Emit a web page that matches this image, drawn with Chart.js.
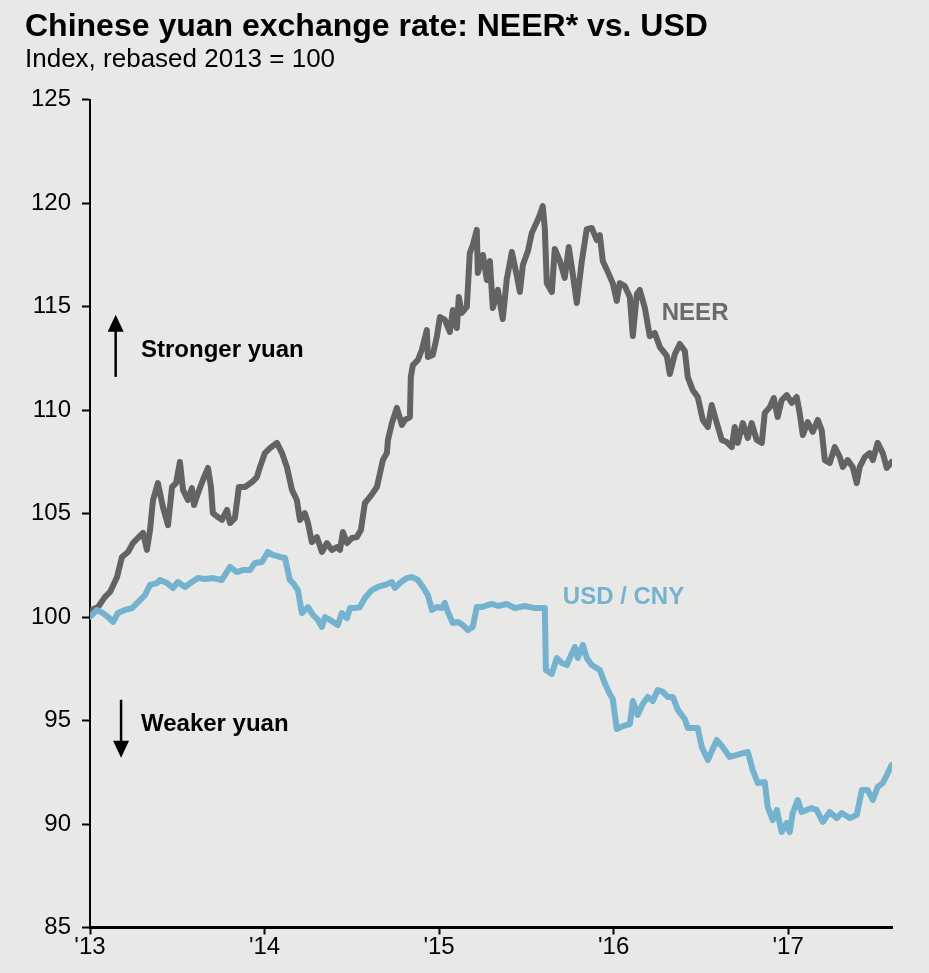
<html>
<head>
<title>Chinese yuan exchange rate</title>
<style>
  body { margin: 0; background: #e8e8e6; }
</style>
</head>

<body>
<script src="https://cdn.jsdelivr.net/npm/chart.js@4.4.0/dist/chart.umd.min.js"></script>

<canvas id="myChart" width="929" height="973"></canvas>

<script type="text/javascript">
var titleText = "Chinese yuan exchange rate: NEER* vs. USD";
var subtitleText = "Index, rebased 2013 = 100";
var yearLabels = ["'13", "'14", "'15", "'16", "'17"];

// NEER, dates as decimal years
var neerDates = [2013.000, 2013.046, 2013.086, 2013.115, 2013.155, 2013.183, 2013.218, 2013.246, 2013.275, 2013.304,
  2013.326, 2013.344, 2013.361, 2013.389, 2013.418, 2013.447, 2013.470, 2013.493, 2013.515, 2013.533,
  2013.561, 2013.584, 2013.596, 2013.619, 2013.647, 2013.676, 2013.693, 2013.704, 2013.733, 2013.756,
  2013.785, 2013.802, 2013.830, 2013.853, 2013.888, 2013.928, 2013.956, 2013.974, 2014.002, 2014.031,
  2014.071, 2014.100, 2014.128, 2014.157, 2014.185, 2014.203, 2014.231, 2014.249, 2014.271, 2014.300,
  2014.329, 2014.357, 2014.386, 2014.415, 2014.432, 2014.449, 2014.472, 2014.501, 2014.529, 2014.552,
  2014.575, 2014.604, 2014.644, 2014.678, 2014.701, 2014.707, 2014.730, 2014.758, 2014.787, 2014.804,
  2014.833, 2014.838, 2014.850, 2014.879, 2014.901, 2014.930, 2014.936, 2014.964, 2014.987, 2015.005,
  2015.033, 2015.062, 2015.079, 2015.102, 2015.113, 2015.130, 2015.159, 2015.176, 2015.193, 2015.216,
  2015.222, 2015.251, 2015.274, 2015.291, 2015.308, 2015.337, 2015.365, 2015.388, 2015.417, 2015.446,
  2015.463, 2015.480, 2015.509, 2015.531, 2015.560, 2015.577, 2015.594, 2015.606, 2015.617, 2015.646,
  2015.663, 2015.692, 2015.720, 2015.743, 2015.766, 2015.789, 2015.818, 2015.846, 2015.875, 2015.904,
  2015.921, 2015.938, 2015.967, 2015.995, 2016.018, 2016.035, 2016.064, 2016.093, 2016.110, 2016.133,
  2016.150, 2016.179, 2016.207, 2016.236, 2016.265, 2016.305, 2016.322, 2016.351, 2016.379, 2016.408,
  2016.425, 2016.453, 2016.482, 2016.511, 2016.540, 2016.562, 2016.591, 2016.620, 2016.648, 2016.677,
  2016.694, 2016.711, 2016.740, 2016.769, 2016.791, 2016.820, 2016.849, 2016.866, 2016.895, 2016.918,
  2016.940, 2016.963, 2016.992, 2017.021, 2017.049, 2017.066, 2017.084, 2017.112, 2017.141, 2017.170,
  2017.192, 2017.210, 2017.238, 2017.267, 2017.296, 2017.313, 2017.341, 2017.370, 2017.393, 2017.410,
  2017.439, 2017.467, 2017.485, 2017.513, 2017.542, 2017.565, 2017.593];
var neerValues = [100.3, 100.48, 100.97, 101.21, 101.93, 102.90, 103.14, 103.57, 103.82, 104.06,
  103.24, 104.20, 105.65, 106.47, 105.31, 104.44, 106.28, 106.47, 107.49, 106.14,
  105.65, 106.23, 105.41, 105.99, 106.62, 107.20, 106.28, 105.02, 104.83, 104.69,
  105.17, 104.54, 104.78, 106.28, 106.28, 106.52, 106.76, 107.25, 107.92, 108.16,
  108.41, 107.92, 107.25, 106.14, 105.65, 104.69, 105.02, 104.54, 103.62, 103.86,
  103.14, 103.57, 103.24, 103.38, 103.24, 104.11, 103.57, 103.82, 103.86, 104.20,
  105.51, 105.80, 106.28, 107.58, 107.92, 108.55, 109.37, 110.10, 109.28, 109.52,
  109.66, 111.59, 112.17, 112.42, 112.90, 113.86, 112.56, 112.66, 113.53, 114.49,
  114.35, 113.77, 114.83, 113.96, 115.46, 114.69, 114.98, 117.58, 117.97, 118.70,
  116.62, 117.49, 116.28, 117.20, 114.93, 115.80, 114.40, 116.33, 117.63, 116.47,
  115.70, 117.00, 117.68, 118.55, 119.08, 119.42, 119.85, 118.74, 116.13, 115.70,
  117.78, 117.20, 116.38, 117.87, 116.57, 115.17, 117.20, 118.74, 118.79, 118.21,
  118.45, 117.20, 116.67, 116.13, 115.27, 116.13, 115.99, 115.46, 113.57, 115.60,
  115.80, 114.93, 113.57, 113.72, 113.04, 112.61, 111.74, 112.70, 113.19, 112.85,
  111.59, 110.97, 110.63, 109.52, 109.18, 110.24, 109.37, 108.55, 108.45, 108.21,
  109.18, 108.41, 109.37, 108.65, 109.37, 108.55, 108.41, 109.86, 110.14, 110.58,
  109.66, 110.48, 110.72, 110.34, 110.63, 109.86, 108.79, 109.42, 108.94, 109.52,
  109.03, 107.58, 107.44, 108.21, 107.73, 107.25, 107.58, 107.25, 106.47, 107.25,
  107.73, 107.92, 107.58, 108.41, 107.92, 107.20, 107.49];

// USD / CNY
var cnyDates = [2013.000, 2013.040, 2013.074, 2013.103, 2013.132, 2013.160, 2013.200, 2013.241, 2013.275, 2013.315,
  2013.344, 2013.384, 2013.401, 2013.441, 2013.475, 2013.504, 2013.544, 2013.584, 2013.619, 2013.659,
  2013.704, 2013.756, 2013.773, 2013.802, 2013.842, 2013.876, 2013.916, 2013.945, 2013.985, 2014.019,
  2014.048, 2014.088, 2014.117, 2014.145, 2014.163, 2014.191, 2014.214, 2014.249, 2014.277, 2014.306,
  2014.329, 2014.346, 2014.375, 2014.403, 2014.420, 2014.443, 2014.472, 2014.489, 2014.518, 2014.546,
  2014.575, 2014.615, 2014.649, 2014.690, 2014.730, 2014.747, 2014.775, 2014.816, 2014.844, 2014.879,
  2014.907, 2014.936, 2014.959, 2014.987, 2015.016, 2015.033, 2015.050, 2015.079, 2015.108, 2015.136,
  2015.165, 2015.193, 2015.216, 2015.245, 2015.279, 2015.302, 2015.337, 2015.388, 2015.434, 2015.491,
  2015.549, 2015.606, 2015.612, 2015.646, 2015.675, 2015.703, 2015.732, 2015.749, 2015.778, 2015.795,
  2015.824, 2015.846, 2015.875, 2015.921, 2015.949, 2015.978, 2015.995, 2016.018, 2016.053, 2016.093,
  2016.110, 2016.138, 2016.167, 2016.196, 2016.224, 2016.253, 2016.282, 2016.310, 2016.339, 2016.368,
  2016.408, 2016.425, 2016.482, 2016.505, 2016.540, 2016.591, 2016.625, 2016.665, 2016.769, 2016.797,
  2016.826, 2016.866, 2016.883, 2016.912, 2016.935, 2016.963, 2016.992, 2017.009, 2017.026, 2017.055,
  2017.077, 2017.134, 2017.163, 2017.198, 2017.238, 2017.278, 2017.307, 2017.353, 2017.393, 2017.422,
  2017.456, 2017.485, 2017.513, 2017.542, 2017.571, 2017.593];
var cnyValues = [100.00, 100.34, 100.19, 100.00, 99.76, 100.19, 100.34, 100.43, 100.72, 101.06,
  101.55, 101.64, 101.79, 101.64, 101.40, 101.69, 101.45, 101.69, 101.88, 101.84,
  101.88, 101.79, 102.03, 102.42, 102.17, 102.27, 102.27, 102.61, 102.66, 103.14,
  103.00, 102.90, 102.85, 101.79, 101.64, 101.30, 100.19, 100.48, 100.10, 99.86,
  99.52, 100.00, 99.86, 99.71, 99.61, 100.19, 99.95, 100.43, 100.43, 100.48,
  100.92, 101.30, 101.45, 101.55, 101.69, 101.40, 101.64, 101.88, 101.93, 101.79,
  101.45, 101.06, 100.34, 100.48, 100.43, 100.68, 100.24, 99.71, 99.76, 99.61,
  99.37, 99.52, 100.48, 100.48, 100.58, 100.63, 100.53, 100.63, 100.43, 100.53,
  100.43, 100.43, 97.44, 97.25, 98.02, 97.78, 97.68, 98.02, 98.55, 98.02,
  98.65, 98.02, 97.68, 97.44, 96.81, 96.28, 96.04, 94.59, 94.73, 94.83,
  95.94, 95.27, 95.80, 96.14, 95.94, 96.47, 96.38, 96.14, 96.14, 95.51,
  95.07, 94.64, 94.64, 93.72, 93.09, 94.06, 93.72, 93.24, 93.48, 92.61,
  91.98, 92.03, 90.82, 90.19, 90.68, 89.61, 90.05, 89.61, 90.53, 91.16,
  90.58, 90.77, 90.68, 90.10, 90.58, 90.29, 90.53, 90.29, 90.43, 91.64,
  91.64, 91.16, 91.79, 91.98, 92.46, 92.85];

var neerColor = "#636363";
var cnyColor = "#74b3cf";

// text labels on the chart, placed in data units
var notes = [
  {text: "NEER", x: 2016.276, y: 114.69, color: "#6a6a6a"},
  {text: "USD / CNY", x: 2015.709, y: 100.97, color: cnyColor},
  {text: "Stronger yuan", x: 2013.292, y: 112.9, color: "#000"},
  {text: "Weaker yuan", x: 2013.292, y: 94.83, color: "#000"}
];
var arrows = [
  {x: 2013.147, from: 111.6, to: 114.6},
  {x: 2013.178, from: 96.0, to: 93.2}
];

function toPoints(xs, ys) {
  var pts = [];
  for (var i = 0; i < xs.length; i++) {
    pts.push({x: xs[i], y: ys[i]});
  }
  return pts;
}

var bgPlugin = {
  id: "bg",
  beforeDraw: function(chart) {
    var c = chart.ctx;
    c.save();
    c.fillStyle = "#e8e8e6";
    c.fillRect(0, 0, chart.width, chart.height);
    c.restore();
  }
};

var notesPlugin = {
  id: "notes",
  afterDatasetsDraw: function(chart) {
    var c = chart.ctx;
    var xs = chart.scales.x, ys = chart.scales.y;
    c.save();
    c.font = "bold 24px 'Liberation Sans', Arial, sans-serif";
    c.textBaseline = "middle";
    c.textAlign = "left";
    notes.forEach(function(n) {
      c.fillStyle = n.color;
      c.fillText(n.text, xs.getPixelForValue(n.x), ys.getPixelForValue(n.y));
    });
    c.strokeStyle = "#000";
    c.fillStyle = "#000";
    c.lineWidth = 2.5;
    arrows.forEach(function(a) {
      var px = xs.getPixelForValue(a.x);
      var y0 = ys.getPixelForValue(a.from);
      var y1 = ys.getPixelForValue(a.to);
      var dir = y1 < y0 ? 1 : -1;
      c.beginPath();
      c.moveTo(px, y0);
      c.lineTo(px, y1 + dir * 14);
      c.stroke();
      c.beginPath();
      c.moveTo(px, y1);
      c.lineTo(px - 8, y1 + dir * 17);
      c.lineTo(px + 8, y1 + dir * 17);
      c.closePath();
      c.fill();
    });
    c.restore();
  }
};

Chart.defaults.font.family = "'Liberation Sans', Arial, sans-serif";
Chart.defaults.color = "#000";

var ctx = document.getElementById("myChart").getContext("2d");

var myLineChart = new Chart(ctx, {
  type: "line",
  data: {
    datasets: [
      {
        label: "USD / CNY",
        data: toPoints(cnyDates, cnyValues),
        borderColor: cnyColor,
        borderWidth: 6,
        pointRadius: 0,
        fill: false,
        tension: 0,
        borderJoinStyle: "round",
        borderCapStyle: "round"
      },
      {
        label: "NEER",
        data: toPoints(neerDates, neerValues),
        borderColor: neerColor,
        borderWidth: 6,
        pointRadius: 0,
        fill: false,
        tension: 0,
        borderJoinStyle: "round",
        borderCapStyle: "round"
      }
    ]
  },
  options: {
    responsive: false,
    animation: false,
    devicePixelRatio: 1,
    layout: { padding: { left: 25, right: 37, top: 0, bottom: 0 } },
    plugins: {
      legend: { display: false },
      tooltip: { enabled: false },
      title: {
        display: true,
        text: titleText,
        align: "start",
        color: "#000",
        font: { size: 32, weight: "bold", lineHeight: 1.1 },
        padding: { top: 10, bottom: 0 }
      },
      subtitle: {
        display: true,
        text: subtitleText,
        align: "start",
        color: "#000",
        font: { size: 26, lineHeight: 1.1 },
        padding: { top: 0, bottom: 25.7 }
      }
    },
    scales: {
      x: {
        type: "linear",
        min: 2013,
        max: 2017.595,
        ticks: {
          stepSize: 1,
          includeBounds: false,
          autoSkip: false,
          maxRotation: 0,
          padding: -2,
          color: "#000",
          font: { size: 24 },
          callback: function(v) { return yearLabels[Math.round(v) - 2013]; }
        },
        grid: { drawOnChartArea: false, drawTicks: true, tickLength: 7, tickColor: "#000", tickWidth: 2 },
        border: { display: true, color: "#000", width: 3 },
        afterFit: function(s) { s.height = 45.5; }
      },
      y: {
        min: 85,
        max: 125,
        ticks: { stepSize: 5, color: "#000", font: { size: 24 }, padding: 11 },
        grid: { drawOnChartArea: false, drawTicks: true, tickLength: 8, tickColor: "#000", tickWidth: 2 },
        border: { display: true, color: "#000", width: 2 },
        afterFit: function(s) { s.width = 65; }
      }
    }
  },
  plugins: [bgPlugin, notesPlugin]
});
</script>
</body>
</html>
